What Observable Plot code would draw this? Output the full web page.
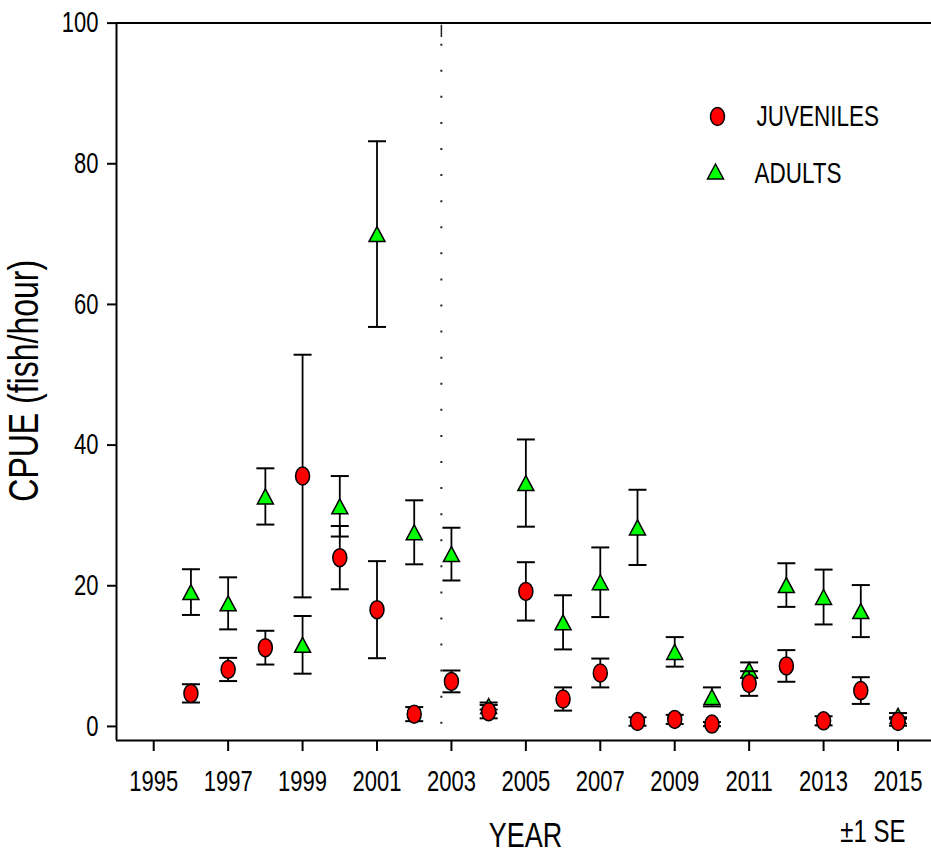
<!DOCTYPE html>
<html>
<head>
<meta charset="utf-8">
<script src="https://cdn.jsdelivr.net/npm/d3@7"></script>
<script src="https://cdn.jsdelivr.net/npm/@observablehq/plot@0.6"></script>
<style>
  html, body { margin: 0; padding: 0; background: #fff; }
  #chart svg [aria-label*="axis"] line,
  #chart svg [aria-label*="axis"] path { stroke-width: 2px; stroke: #000; }
</style>
</head>
<body>
<div id="chart"></div>
<script>
// ---- data ----
const years = [1996, 1997, 1998, 1999, 2000, 2001, 2002, 2003, 2004, 2005,
               2006, 2007, 2008, 2009, 2010, 2011, 2012, 2013, 2014, 2015];
const juvenileMean = [4.7, 8.1, 11.2, 35.6, 24.0, 16.6, 1.75, 6.4, 2.1, 19.2,
                      3.9, 7.6, 0.7, 1.0, 0.33, 6.1, 8.6, 0.8, 5.1, 0.7];
const juvenileSE   = [1.3, 1.65, 2.4, 17.25, 4.5, 6.9, 1.0, 1.55, 0.95, 4.15,
                      1.65, 2.05, 0.6, 0.65, 0.3, 1.75, 2.25, 0.65, 1.9, 0.6];
const adultMean    = [19.1, 17.5, 32.7, 11.6, 31.3, 70.0, 27.6, 24.5, 2.9, 34.6,
                      14.8, 20.5, 28.3, 10.6, 4.2, 8.0, 20.1, 18.4, 16.4, 1.5];
const adultSE      = [3.25, 3.7, 4.0, 4.1, 4.3, 13.2, 4.55, 3.75, 0.5, 6.2,
                      3.85, 4.95, 5.35, 2.1, 1.35, 1.1, 3.1, 3.9, 3.7, 0.4];
const xTicks = [1995, 1997, 1999, 2001, 2003, 2005, 2007, 2009, 2011, 2013, 2015];
const yTicks = [0, 20, 40, 60, 80, 100];
const seriesNames = ["JUVENILES", "ADULTS"];
const breakYear = 2002.73; // dotted separator

const rows = (mean, se) => years.map((year, i) => ({
  year, mean: mean[i], lo: mean[i] - se[i], hi: mean[i] + se[i]
}));
const juv = rows(juvenileMean, juvenileSE);
const adu = rows(adultMean, adultSE);

// ---- custom symbols ----
const ellipse = {draw(ctx) {
  const rx = 7, ry = 9, k = 0.5523;
  ctx.moveTo(rx, 0);
  ctx.bezierCurveTo(rx, ry * k, rx * k, ry, 0, ry);
  ctx.bezierCurveTo(-rx * k, ry, -rx, ry * k, -rx, 0);
  ctx.bezierCurveTo(-rx, -ry * k, -rx * k, -ry, 0, -ry);
  ctx.bezierCurveTo(rx * k, -ry, rx, -ry * k, rx, 0);
  ctx.closePath();
}};
const triangle = {draw(ctx) {
  ctx.moveTo(0, -7.5); ctx.lineTo(8, 7.5); ctx.lineTo(-8, 7.5); ctx.closePath();
}};
const cap = {draw(ctx) { ctx.moveTo(-9, 0); ctx.lineTo(9, 0); }};

const sans = "'Liberation Sans', Arial, Helvetica, sans-serif";

function series(data, symbol, color) {
  return [
    Plot.ruleX(data, {x: "year", y1: "lo", y2: "hi", stroke: "black", strokeWidth: 1.8}),
    Plot.dot(data, {x: "year", y: "hi", symbol: cap, fill: "none", stroke: "black", strokeWidth: 2}),
    Plot.dot(data, {x: "year", y: "lo", symbol: cap, fill: "none", stroke: "black", strokeWidth: 2}),
    Plot.dot(data, {x: "year", y: "mean", symbol, fill: color, stroke: "black", strokeWidth: 1.5})
  ];
}

const chart = Plot.plot({
  width: 931,
  height: 852,
  marginLeft: 116,
  marginRight: 0,
  marginTop: 22.6,
  marginBottom: 112,
  style: {fontFamily: sans, fontSize: "22px", color: "black", background: "white"},
  x: {domain: [1994, 2015.9], ticks: xTicks, tickFormat: d => String(d),
      tickSize: 11, tickPadding: 19, label: null},
  y: {domain: [-2, 100], ticks: yTicks, tickFormat: d => String(d),
      tickSize: 9, tickPadding: 9, label: null},
  marks: [
    Plot.ruleY([100], {stroke: "black", strokeWidth: 2}),
    Plot.ruleX([1994], {stroke: "black", strokeWidth: 2}),
    Plot.ruleY([-2], {stroke: "black", strokeWidth: 2}),
    Plot.ruleX([breakYear], {y1: 99.7, y2: 97.95, stroke: "#222", strokeWidth: 1.5}),
    Plot.ruleX([breakYear], {y1: 97.0, y2: 0.3, stroke: "#222", strokeWidth: 2, strokeDasharray: "2,24.08"}),
    ...series(adu, triangle, "#00ff00"),
    ...series(juv, ellipse, "#ff0000"),
    // legend
    Plot.dot([seriesNames[0]], {frameAnchor: "top-left", dx: 601, dy: 93.4, symbol: ellipse,
      fill: "#ff0000", stroke: "black", strokeWidth: 1.5}),
    Plot.dot([seriesNames[1]], {frameAnchor: "top-left", dx: 599, dy: 148.4, symbol: triangle,
      fill: "#00ff00", stroke: "black", strokeWidth: 1.5}),
    Plot.text([seriesNames[0]], {text: d => d, frameAnchor: "top-left", dx: 640, dy: 93.4,
      textAnchor: "start", lineAnchor: "middle", fontSize: 22.5, fontFamily: sans}),
    Plot.text([seriesNames[1]], {text: d => d, frameAnchor: "top-left", dx: 638, dy: 150.4,
      textAnchor: "start", lineAnchor: "middle", fontSize: 22.5, fontFamily: sans}),
    // axis titles
    Plot.text(["CPUE (fish/hour)"], {text: d => d, frameAnchor: "left", dx: -92, dy: -1, rotate: -90,
      textAnchor: "middle", lineAnchor: "middle", fontSize: 32, fontFamily: sans, ariaLabel: "ylabel"}),
    Plot.text(["YEAR"], {text: d => d, frameAnchor: "bottom", dx: 1.5, dy: 95,
      textAnchor: "middle", lineAnchor: "middle", fontSize: 27, fontFamily: sans}),
    Plot.text(["±1 SE"], {text: d => d, frameAnchor: "bottom-right", dx: -26, dy: 91,
      textAnchor: "end", lineAnchor: "middle", fontSize: 24, fontFamily: sans, ariaLabel: "se-note"})
  ]
});

// The reference's lettering is vertically stretched (tall, narrow glyphs):
// scale each text about its own anchor point.
const num = v => (v != null && /^-?\d*\.?\d+$/.test(v.trim())) ? +v : 0;
chart.querySelectorAll("text").forEach(t => {
  const g = t.closest("g[aria-label]");
  const label = g ? g.getAttribute("aria-label") : "";
  let sx = 1, sy = 1.3;
  if (label === "ylabel") { sx = 1.12; sy = 1; }
  if (label === "se-note") { sx = 1; sy = 1; }
  const x = num(t.getAttribute("x")), y = num(t.getAttribute("y"));
  const tr = t.getAttribute("transform") || "";
  t.setAttribute("transform", `${tr} translate(${x},${y}) scale(${sx},${sy}) translate(${-x},${-y})`);
});

document.getElementById("chart").appendChild(chart);
</script>
</body>
</html>
